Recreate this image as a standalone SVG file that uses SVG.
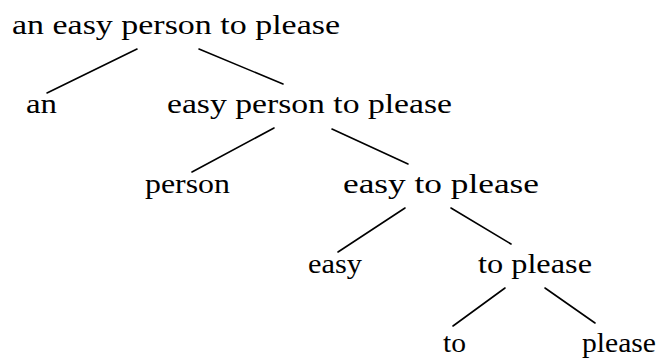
<svg xmlns="http://www.w3.org/2000/svg" width="658" height="358" viewBox="0 0 658 358">
<style>
text{font-family:'Liberation Serif','DejaVu Serif',serif;font-size:28px;fill:#000}
.c line{stroke:#000;stroke-width:1.6;stroke-linecap:round}
</style>
<rect width="658" height="358" fill="#fff"/>
<g class="c" id="connectors">
<line x1="137" y1="49" x2="47" y2="93"/>
<line x1="199" y1="49" x2="283" y2="84"/>
<line x1="274" y1="128" x2="192" y2="172"/>
<line x1="332" y1="129" x2="408" y2="164"/>
<line x1="405" y1="208" x2="338" y2="252"/>
<line x1="451" y1="208" x2="511" y2="244"/>
<line x1="505" y1="288" x2="453" y2="326"/>
<line x1="545" y1="288" x2="595" y2="323"/>
</g>
<g id="n1"><text x="12" y="34" textLength="328" lengthAdjust="spacingAndGlyphs">an easy person to please</text></g>
<g id="n2"><text x="26" y="113" textLength="31" lengthAdjust="spacingAndGlyphs">an</text></g>
<g id="n3"><text x="167" y="113" textLength="285" lengthAdjust="spacingAndGlyphs">easy person to please</text></g>
<g id="n4"><text x="145" y="193" textLength="85" lengthAdjust="spacingAndGlyphs">person</text></g>
<g id="n5"><text x="343" y="193" textLength="196" lengthAdjust="spacingAndGlyphs">easy to please</text></g>
<g id="n6"><text x="308" y="273" textLength="54" lengthAdjust="spacingAndGlyphs">easy</text></g>
<g id="n7"><text x="478" y="273" textLength="114" lengthAdjust="spacingAndGlyphs">to please</text></g>
<g id="n8"><text x="443" y="352" textLength="23" lengthAdjust="spacingAndGlyphs">to</text></g>
<g id="n9"><text x="582" y="352" textLength="74" lengthAdjust="spacingAndGlyphs">please</text></g>
</svg>
